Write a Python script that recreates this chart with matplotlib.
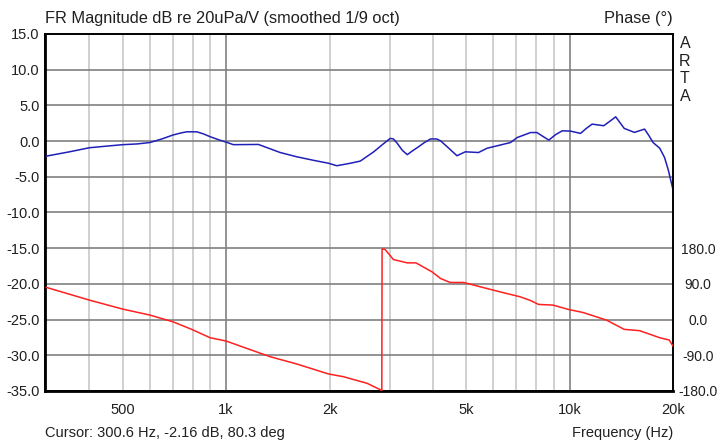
import numpy as np
import matplotlib
matplotlib.use('Agg')
import matplotlib.pyplot as plt
from matplotlib.ticker import FixedLocator, NullLocator

plt.rcParams['font.family'] = ['Liberation Sans', 'DejaVu Sans']

# Magnitude response (Hz, dB)
mag_freq = [300, 350, 400, 450, 500, 550, 600, 650, 700, 740, 768, 822, 860, 900, 950,
            1000, 1050, 1242, 1330, 1437, 1607, 1800, 1986, 2101, 2300, 2458, 2690,
            2850, 3005, 3070, 3148, 3260, 3368, 3480, 3606, 3780, 3937, 4100, 4210,
            4450, 4700, 4970, 5430, 5750, 6730, 7040, 7700, 8030, 8400, 8700, 9100,
            9520, 10060, 10760, 11200, 11630, 12570, 13200, 13620, 14420, 15440,
            16530, 17000, 17500, 18300, 18900, 19380, 20000]
mag_db = [-2.1, -1.5, -0.93, -0.7, -0.5, -0.4, -0.2, 0.3, 0.85, 1.15, 1.3, 1.3, 1.0,
          0.6, 0.2, -0.14, -0.5, -0.47, -1.0, -1.6, -2.2, -2.7, -3.1, -3.45, -3.1,
          -2.8, -1.5, -0.5, 0.38, 0.3, -0.3, -1.3, -1.9, -1.4, -0.9, -0.2, 0.3,
          0.3, 0.04, -1.0, -2.05, -1.5, -1.6, -1.0, -0.2, 0.5, 1.2, 1.2, 0.6, 0.14,
          0.9, 1.44, 1.4, 1.08, 1.8, 2.38, 2.15, 2.9, 3.4, 1.78, 1.22, 1.68, 0.8,
          -0.2, -1.0, -2.3, -4.06, -6.8]

# Phase response (Hz, degrees), wraps at about 2.84 kHz
ph_freq = [300, 400, 500, 600, 700, 794, 898, 1000, 1099, 1343, 1607, 1986, 2196,
           2573, 2815, 2840, 2845, 2900, 2980, 3068, 3368, 3570, 3983, 4210, 4490,
           4920, 5500, 6270, 7180, 7700, 8120, 8960, 9910, 10930, 12800, 14420,
           16000, 18300, 19500, 20000]
ph_deg = [81.1, 49.1, 26.5, 11.4, -5.5, -24.6, -45.7, -54, -66.7, -93.5, -112, -137, -144,
          -160.6, -177, -180, 178, 177, 165, 151.5, 143, 143, 120, 103.7, 93.6,
          93.6, 82.6, 70, 57.5, 48, 38.3, 36.5, 25.7, 18, -1.2, -24.6,
          -28, -45.7, -51.5, -66.7]

x_ticks = [500, 1000, 2000, 5000, 10000, 20000]
x_labels = ['500', '1k', '2k', '5k', '10k', '20k']
db_ticks = [15, 10, 5, 0, -5, -10, -15, -20, -25, -30, -35]
ph_ticks = [-180, -90, 0, 90, 180]

fig = plt.figure(figsize=(7.2, 4.41), dpi=100)
ax = fig.add_axes([45/720, 1-391/441, 628/720, 357/441])

# grid: minor verticals light, decade lines darker, dB lines dark
minor = [400, 500, 600, 700, 800, 900, 2000, 3000, 4000, 5000, 6000, 7000, 8000, 9000]
for f in minor:
    ax.axvline(f, color='#c8c8c8', lw=1.2, zorder=1)
for f in [1000, 10000]:
    ax.axvline(f, color='#808080', lw=1.2, zorder=1)
for d in db_ticks:
    ax.axhline(d, color='#808080', lw=1.2, zorder=1)

ax.plot(mag_freq, mag_db, color='#2020b8', lw=1.1, zorder=3)

ax.set_xscale('log')
ax.set_xlim(297, 20000)
ax.set_ylim(-35, 15)
ax.xaxis.set_major_locator(FixedLocator(x_ticks))
ax.xaxis.set_minor_locator(NullLocator())
ax.set_xticklabels(x_labels)
ax.set_yticks(db_ticks)
ax.set_yticklabels([f'{d:.1f}' for d in db_ticks])
ax.tick_params(length=0, labelsize=10.5, colors='#202020', pad=4)
ax.tick_params(axis='x', pad=9)

# phase on its own scale: -180..180 spans -35..-15 dB
ax2 = ax.twinx()
ax2.plot(ph_freq, ph_deg, color='#ff2020', lw=1.1, zorder=3)
ax2.set_ylim(-180, 720)
ax2.set_yticks(ph_ticks)
ax2.set_yticklabels([f'{p:.1f}' for p in ph_ticks])
ax2.tick_params(length=0, labelsize=10, colors='#202020', pad=6)
for lab in ax2.get_yticklabels():
    lab.set_horizontalalignment('center')
    lab.set_x(1.0264)

for a in (ax, ax2):
    for s in a.spines.values():
        s.set_color('black')
        s.set_linewidth(1.2)
ax.spines['bottom'].set_linewidth(2)
ax.spines['left'].set_linewidth(2)

fig.text(45/720, 1-18/441, 'FR Magnitude dB re 20uPa/V (smoothed 1/9 oct)',
         fontsize=11.8, color='#202020', va='center', ha='left')
fig.text(673/720, 1-18/441, 'Phase (°)', fontsize=11.8, color='#202020',
         va='center', ha='right')
fig.text(685/720, 1-70/441, 'A\nR\nT\nA', fontsize=11.5, color='#202020',
         va='center', ha='center', linespacing=1.2)
fig.text(45/720, 1-433/441, 'Cursor: 300.6 Hz, -2.16 dB, 80.3 deg',
         fontsize=10.5, color='#202020', va='center', ha='left')
fig.text(673/720, 1-433/441, 'Frequency (Hz)', fontsize=10.5, color='#202020',
         va='center', ha='right')

fig.savefig('out.png', dpi=100, facecolor='white')
